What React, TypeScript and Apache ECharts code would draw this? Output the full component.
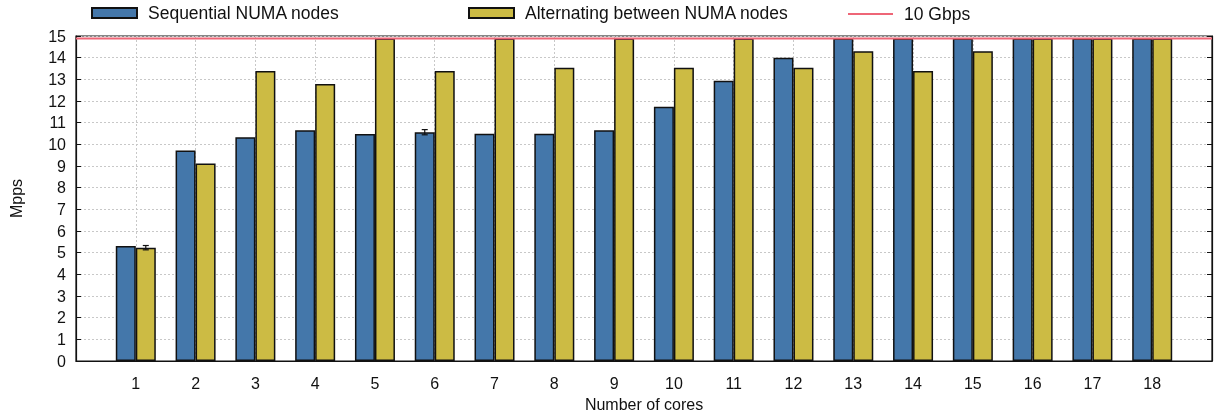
import React, { useEffect, useRef } from "react";
import * as echarts from "echarts";

// Core counts (padded with empty slots at both ends of the axis)
const cores = ["", "1", "2", "3", "4", "5", "6", "7", "8", "9", "10", "11", "12", "13", "14", "15", "16", "17", "18", ""];

// Throughput in Mpps, one value per core count
const sequential = [5.31, 9.72, 10.33, 10.65, 10.48, 10.56, 10.49, 10.49, 10.65, 11.73, 12.93, 14.0, 14.88, 14.88, 14.88, 14.88, 14.88, 14.88];
const alternating = [5.23, 9.12, 13.38, 12.78, 14.88, 13.38, 14.88, 13.53, 14.88, 13.53, 14.88, 13.53, 14.3, 13.38, 14.3, 14.88, 14.88, 14.88];

// Standard deviation per bar (0 where too small to show)
const sequentialErr = [0, 0, 0, 0, 0, 0.12, 0, 0, 0, 0, 0, 0, 0, 0, 0, 0, 0, 0];
const alternatingErr = [0.1, 0, 0, 0, 0, 0, 0, 0, 0, 0, 0, 0, 0, 0, 0, 0, 0, 0];

// 10 GbE line rate for 64-byte packets
const lineRate = 14.88;

const yTicks = { min: 0, max: 15, interval: 1 };

const BLUE = "#4477aa";
const GOLD = "#ccbb44";
const RED = "#ee6677";
const FONT = "Liberation Sans, Arial, Helvetica, sans-serif";
const BAR_W = 20;

const pad = (arr: number[]) => [null, ...arr, null];

function errorBars(values: number[], errs: number[], offset: number) {
  const data = values
    .map((v, i) => [i + 1, v, errs[i]])
    .filter((d) => d[2] > 0);
  return {
    type: "custom",
    data,
    z: 5,
    silent: true,
    renderItem: (_params: any, api: any) => {
      const x = api.value(0);
      const v = api.value(1);
      const e = api.value(2);
      const hi = api.coord([x, v + e]);
      const lo = api.coord([x, v - e]);
      const cx = hi[0] + offset;
      const cap = 3;
      const style = { stroke: "#111", lineWidth: 1.2 };
      return {
        type: "group",
        children: [
          { type: "line", shape: { x1: cx, y1: hi[1], x2: cx, y2: lo[1] }, style },
          { type: "line", shape: { x1: cx - cap, y1: hi[1], x2: cx + cap, y2: hi[1] }, style },
          { type: "line", shape: { x1: cx - cap, y1: lo[1], x2: cx + cap, y2: lo[1] }, style },
        ],
      };
    },
  };
}

export default function App() {
  const ref = useRef<HTMLDivElement>(null);

  useEffect(() => {
    if (!ref.current) return;
    const chart = echarts.init(ref.current, null, { renderer: "svg" });
    const textStyle = { fontFamily: FONT, fontSize: 16, color: "#111" };
    const legendBase = {
      top: 4,
      padding: 0,
      itemWidth: 45,
      itemHeight: 10,
      icon: "rect",
      selectedMode: false,
      textStyle: { ...textStyle, fontSize: 17.5, padding: [0, 0, 0, 6] },
    };
    chart.setOption({
      animation: false,
      textStyle: { fontFamily: FONT },
      legend: [
        { ...legendBase, left: 91, data: ["Sequential NUMA nodes"] },
        { ...legendBase, left: 468, data: ["Alternating between NUMA nodes"] },
        { ...legendBase, top: 5, left: 848, itemHeight: 2, data: ["10 Gbps"] },
      ],
      grid: {
        left: 76,
        right: 8,
        top: 36,
        bottom: 55,
        show: true,
        borderColor: "#111",
        borderWidth: 1.2,
        containLabel: false,
      },
      xAxis: {
        type: "category",
        data: cores,
        boundaryGap: false,
        name: "Number of cores",
        nameLocation: "middle",
        nameGap: 35,
        nameTextStyle: textStyle,
        axisLine: { lineStyle: { color: "#111", width: 1.2 } },
        axisTick: { show: false },
        axisLabel: { ...textStyle, margin: 14, interval: 0 },
        splitLine: {
          show: true,
          interval: 0,
          lineStyle: { color: "#c8c8c8", type: [2, 2], width: 1 },
        },
      },
      yAxis: [
        {
          type: "value",
          ...yTicks,
          name: "Mpps",
          nameLocation: "middle",
          nameGap: 52,
          nameRotate: 90,
          nameTextStyle: textStyle,
          axisLine: { show: true, lineStyle: { color: "#111", width: 1.2 } },
          axisTick: { show: true, inside: true, length: 5, lineStyle: { color: "#111" } },
          axisLabel: { ...textStyle, margin: 10 },
          splitLine: { show: true, lineStyle: { color: "#c8c8c8", type: [2, 2], width: 1 } },
        },
        {
          type: "value",
          ...yTicks,
          position: "right",
          axisLine: { show: true, lineStyle: { color: "#111", width: 1.2 } },
          axisTick: { show: true, inside: true, length: 5, lineStyle: { color: "#111" } },
          axisLabel: { show: false },
          splitLine: { show: false },
        },
      ],
      series: [
        {
          name: "Sequential NUMA nodes",
          type: "bar",
          data: pad(sequential),
          barWidth: BAR_W,
          barGap: "0%",
          itemStyle: { color: BLUE, borderColor: "#111", borderWidth: 1.5 },
        },
        {
          name: "Alternating between NUMA nodes",
          type: "bar",
          data: pad(alternating),
          barWidth: BAR_W,
          barGap: "0%",
          itemStyle: { color: GOLD, borderColor: "#111", borderWidth: 1.5 },
        },
        {
          name: "10 Gbps",
          type: "line",
          data: cores.map(() => lineRate),
          symbol: "none",
          z: 6,
          lineStyle: { color: RED, width: 2 },
          itemStyle: { color: RED },
        },
        errorBars(sequential, sequentialErr, -BAR_W / 2),
        errorBars(alternating, alternatingErr, BAR_W / 2),
      ],
    });
    return () => chart.dispose();
  }, []);

  return (
    <div
      ref={ref}
      style={{ position: "fixed", left: 0, top: 0, width: 1220, height: 417 }}
    />
  );
}
